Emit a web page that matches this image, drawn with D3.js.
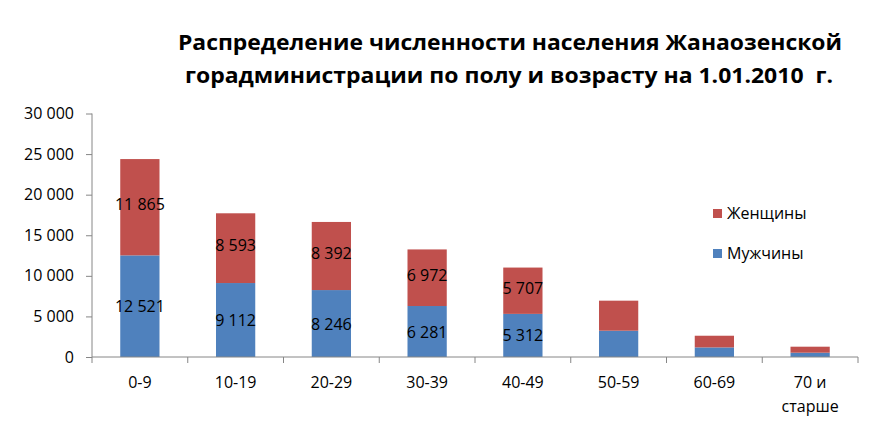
<!DOCTYPE html>
<html>
<head>
<meta charset="utf-8">
<script src="https://cdn.jsdelivr.net/npm/d3@7"></script>
<style>
  body { margin: 0; background: #fff; }
  text { font-family: "Open Sans", "Liberation Sans", sans-serif; fill: #000; }
</style>
</head>
<body>
<script>
// данные
var ages = ["0-9", "10-19", "20-29", "30-39", "40-49", "50-59", "60-69", "70 и старше"];
var men = [12521, 9112, 8246, 6281, 5312, 3240, 1180, 530];
var women = [11865, 8593, 8392, 6972, 5707, 3700, 1440, 740];
var showLabel = [true, true, true, true, true, false, false, false];
var yTicks = [0, 5000, 10000, 15000, 20000, 25000, 30000];
var seriesNames = ["Мужчины", "Женщины"];
var colors = ["#4F81BD", "#C0504D"];

function drawChart(){
  var W = 889, H = 424;
  var pLeft = 92, pRight = 858, pTop = 113.5, pBottom = 357;

  var svg = d3.select("body").append("svg")
    .attr("width", W).attr("height", H);

  var rows = ages.map(function(a, i){ return { age: a, m: men[i], w: women[i], lab: showLabel[i] }; });
  var stack = d3.stack().keys(["m", "w"])(rows);

  var x = d3.scaleBand().domain(ages).range([pLeft, pRight]).paddingInner(0.59).paddingOuter(0.295);
  var y = d3.scaleLinear().domain([0, 30000]).range([pBottom, pTop]);

  var fmt = function(v){ return d3.format(",")(v).replace(/,/g, " "); };

  // заголовок
  var title = svg.append("text")
    .attr("text-anchor", "middle")
    .style("font-weight", "bold")
    .style("font-size", "21px");
  title.append("tspan").attr("x", 510).attr("y", 50)
    .attr("textLength", 664).attr("lengthAdjust", "spacingAndGlyphs")
    .text("Распределение численности населения Жанаозенской");
  title.append("tspan").attr("x", 509).attr("y", 83)
    .attr("textLength", 648).attr("lengthAdjust", "spacingAndGlyphs")
    .text("горадминистрации по полу и возрасту на 1.01.2010\u00a0 г.");

  // столбцы
  var layer = svg.selectAll("g.layer").data(stack).enter().append("g")
    .attr("class", "layer")
    .attr("fill", function(d, i){ return colors[i]; });

  layer.selectAll("rect").data(function(d){ return d; }).enter().append("rect")
    .attr("x", function(d){ return x(d.data.age); })
    .attr("width", x.bandwidth())
    .attr("y", function(d){ return y(d[1]); })
    .attr("height", function(d){ return y(d[0]) - y(d[1]); });

  // подписи
  layer.each(function(s, si){
    d3.select(this).selectAll("text")
      .data(s.filter(function(e){ return e.data.lab; }))
      .enter().append("text")
      .attr("x", function(d){ return x(d.data.age) + x.bandwidth() / 2; })
      .attr("y", function(d){ return (y(d[0]) + y(d[1])) / 2 + (si === 0 ? 6 : 3); })
      .attr("text-anchor", "middle")
      .attr("fill", "#000")
      .style("font-size", "16px")
      .text(function(d){ return fmt(d[1] - d[0]); });
  });

  // ось Y
  var gy = svg.append("g").attr("transform", "translate(" + pLeft + ",0)")
    .call(d3.axisLeft(y).tickValues(yTicks).tickSize(6).tickPadding(12).tickFormat(fmt));
  gy.select(".domain").attr("stroke", "#868686").attr("d", "M0," + pTop + "V" + pBottom);
  gy.selectAll(".tick line").attr("stroke", "#868686");
  gy.selectAll(".tick text").style("font-size", "16px").style("font-family", "'Open Sans', sans-serif").attr("fill", "#000");

  // ось X
  var gx = svg.append("g").attr("transform", "translate(0," + pBottom + ")");
  gx.append("line").attr("x1", pLeft).attr("x2", pRight).attr("stroke", "#868686");
  var step = (pRight - pLeft) / ages.length;
  gx.selectAll("line.t").data(d3.range(ages.length + 1)).enter().append("line")
    .attr("class", "t")
    .attr("x1", function(i){ return pLeft + i * step; })
    .attr("x2", function(i){ return pLeft + i * step; })
    .attr("y1", 0).attr("y2", 6).attr("stroke", "#868686");
  gx.selectAll("text").data(ages).enter().append("text")
    .attr("text-anchor", "middle")
    .style("font-size", "16px")
    .each(function(a){
      var t = d3.select(this);
      var cx = x(a) + x.bandwidth() / 2;
      var parts = a === "70 и старше" ? ["70 и", "старше"] : [a];
      parts.forEach(function(p, k){
        t.append("tspan").attr("x", cx).attr("y", 31 + k * 24).text(p);
      });
    });

  // легенда
  var leg = svg.selectAll("g.leg").data([1, 0]).enter().append("g")
    .attr("class", "leg")
    .attr("transform", function(d, i){ return "translate(713," + (209 + i * 40) + ")"; });
  leg.append("rect").attr("width", 9).attr("height", 9)
    .attr("fill", function(d){ return colors[d]; });
  leg.append("text").attr("x", 14).attr("y", 10)
    .style("font-size", "16px")
    .text(function(d){ return seriesNames[d]; });
}

drawChart();
</script>
</body>
</html>
